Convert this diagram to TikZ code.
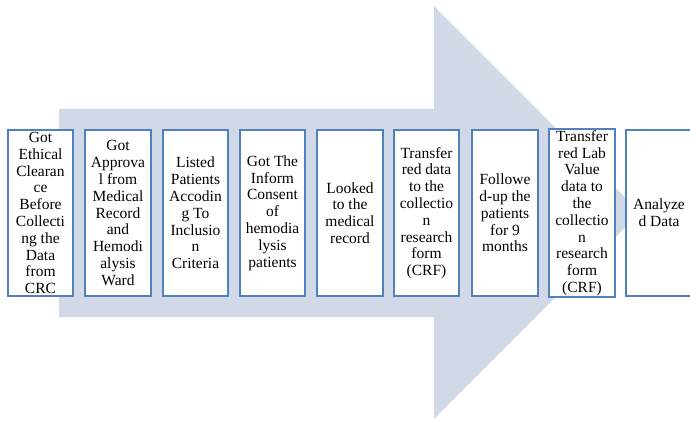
\documentclass[tikz,border=0pt]{standalone}
\usepackage{fontspec}
\setmainfont{Liberation Serif}
\usepackage{tikz}
\definecolor{arrowfill}{RGB}{209,217,232}
\definecolor{boxline}{RGB}{79,129,189}

\begin{document}
\begin{tikzpicture}[x=1pt,y=-1pt,
    stepbox/.style={draw=boxline, line width=2pt, fill=white, minimum width=65.5pt,
        minimum height=166pt, inner sep=1pt, align=center,
        font=\fontsize{15.5}{16.8}\selectfont}] % one pt per pixel of the reference
        \useasboundingbox (0,0) rectangle (690,422);
        \clip (0,0) rectangle (690,422);
        \fill[arrowfill] (59,109) -- (434,109) -- (434,6) -- (640,212.5) -- (434,419) -- (434,317) -- (59,317) -- cycle;

        \node[stepbox] (b1) at (40.5,213) {Got\\Ethical\\Clearan\\ce\\Before\\Collecti\\ng the\\Data\\from\\CRC};
        \node[stepbox] (b2) at (118,213) {Got\\Approva\\l from\\Medical\\Record\\and\\Hemodi\\alysis\\Ward};
        \node[stepbox] (b3) at (195.5,213) {Listed\\Patients\\Accodin\\g To\\Inclusio\\n\\Criteria};
        \node[stepbox] (b4) at (272.5,213) {Got The\\Inform\\Consent\\of\\hemodia\\lysis\\patients};
        \node[stepbox] (b5) at (350,213) {Looked\\to the\\medical\\record};
        \node[stepbox] (b6) at (426.5,213) {Transfer\\red data\\to the\\collectio\\n\\research\\form\\(CRF)};
        \node[stepbox] (b7) at (505,213) {Followe\\d-up the\\patients\\for 9\\months};
        \node[stepbox] (b8) at (582,213) {Transfer\\red Lab\\Value\\data to\\the\\collectio\\n\\research\\form\\(CRF)};
        \node[stepbox] (b9) at (659,213) {Analyze\\d Data};
    \end{tikzpicture}
\end{document}
